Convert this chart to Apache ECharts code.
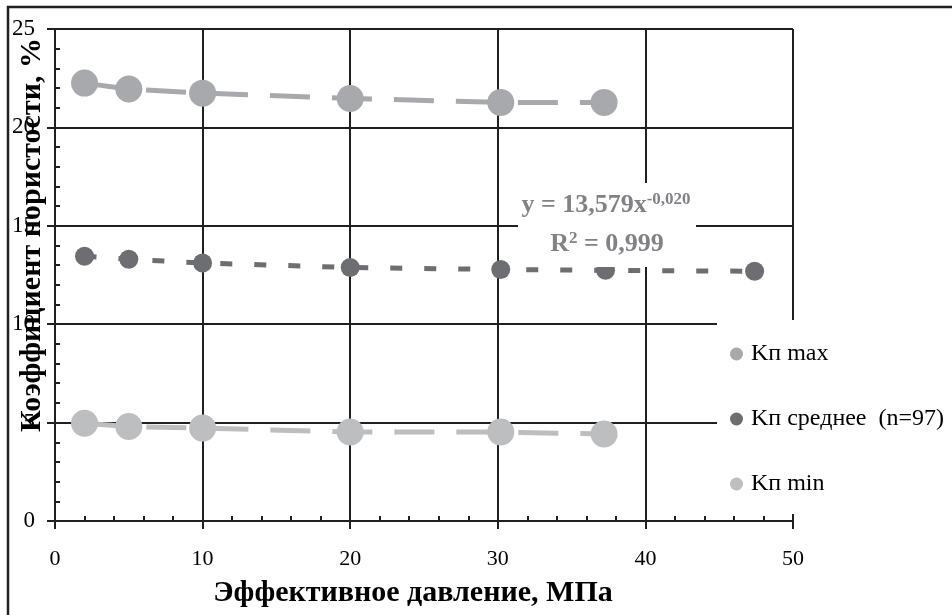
<!DOCTYPE html>
<html>
<head>
<meta charset="utf-8">
<script src="https://cdn.jsdelivr.net/npm/echarts@6/dist/echarts.min.js"></script>
<style>
  * { margin: 0; padding: 0; }
  #chart { width: 952px; height: 615px; background: #fff; }
</style>
</head>
<body>
<div id="chart"></div>
<script>
  // эффективное давление, МПа
  var pressure = [2, 5, 10, 20, 30.2, 37.2]
  var pressureMean = [2, 5, 10, 20, 30.2, 37.3, 47.4]
  // коэффициент пористости, %
  var kpMax = [22.25, 21.95, 21.74, 21.47, 21.27, 21.27]
  var kpMean = [13.45, 13.3, 13.11, 12.88, 12.78, 12.74, 12.69]
  var kpMin = [4.97, 4.8, 4.72, 4.52, 4.52, 4.42]
  var seriesNames = ['Kп max', 'Kп среднее  (n=97)', 'Kп min']
  var xTitle = 'Эффективное давление, МПа'
  var yTitle = 'Коэффициент пористости, %'

  var serif = '"Liberation Serif", "Times New Roman", serif'
  var ink = '#231f20'

  function pairs(xs, ys) {
    return xs.map(function (x, i) { return [x, ys[i]] })
  }

  var myChart = echarts.init(document.getElementById('chart'), null, { renderer: 'canvas' })

  var option = {
    animation: false,
    backgroundColor: '#fff',
    grid: { left: 55, right: 159, top: 29, bottom: 94 },
    xAxis: [
      {
        type: 'value', min: 0, max: 50, interval: 10,
        axisLine: { lineStyle: { color: ink, width: 2 } },
        axisTick: { length: 8, lineStyle: { color: ink, width: 2 } },
        axisLabel: { margin: 27, color: '#000', fontSize: 22, fontFamily: serif },
        splitLine: { lineStyle: { color: ink, width: 2 } }
      },
      {
        type: 'value', min: 0, max: 50, interval: 2, position: 'bottom',
        axisLine: { show: false },
        axisTick: { inside: true, length: 5, lineStyle: { color: ink, width: 2 } },
        axisLabel: { show: false },
        splitLine: { show: false }
      }
    ],
    yAxis: [
      {
        type: 'value', min: 0, max: 25, interval: 5,
        axisLine: { show: true, lineStyle: { color: ink, width: 2 } },
        axisTick: { show: true, length: 8, lineStyle: { color: ink, width: 2 } },
        axisLabel: { margin: 20, color: '#000', fontSize: 23, fontFamily: serif },
        splitLine: { lineStyle: { color: ink, width: 2 } }
      },
      {
        type: 'value', min: 0, max: 25, interval: 1, position: 'left',
        axisLine: { show: false },
        axisTick: { show: true, inside: true, length: 5, lineStyle: { color: ink, width: 2 } },
        axisLabel: { show: false },
        splitLine: { show: false }
      }
    ],
    legend: {
      data: seriesNames,
      orient: 'vertical',
      left: 717,
      top: 320,
      icon: 'circle',
      itemWidth: 13,
      itemHeight: 13,
      itemGap: 41,
      padding: [22, 20, 18, 13],
      backgroundColor: '#fff',
      textStyle: { color: '#000', fontSize: 24, lineHeight: 24, fontFamily: serif, padding: [0, 0, 0, 3] }
    },
    series: [
      {
        name: seriesNames[0], type: 'line',
        data: pairs(pressure, kpMax),
        symbol: 'circle', symbolSize: 27,
        itemStyle: { color: '#a7a9ac' },
        lineStyle: { color: '#a7a9ac', width: 5, type: [40, 22] }
      },
      {
        name: seriesNames[1], type: 'line',
        data: pairs(pressureMean, kpMean),
        symbol: 'circle', symbolSize: 19,
        itemStyle: { color: '#6d6e71' },
        lineStyle: { color: '#6d6e71', width: 5, type: [12, 22] }
      },
      {
        name: seriesNames[2], type: 'line',
        data: pairs(pressure, kpMin),
        symbol: 'circle', symbolSize: 27,
        itemStyle: { color: '#bcbec0' },
        lineStyle: { color: '#bcbec0', width: 5, type: [40, 22] }
      }
    ],
    graphic: [
      {
        type: 'polyline', z: 100, silent: true,
        shape: { points: [[8, 620], [8, 7], [960, 7]] },
        style: { stroke: ink, lineWidth: 2.5, fill: null }
      },
      {
        type: 'rect', z: 50, silent: true,
        shape: { x: 518, y: 183, width: 178, height: 84 },
        style: { fill: '#fff' }
      },
      {
        type: 'text', z: 51, silent: true,
        x: 606, y: 205,
        style: {
          text: '{a|y = 13,579x}{s|-0,020}',
          align: 'center', verticalAlign: 'middle',
          rich: {
            a: { fontSize: 26, fontWeight: 'bold', fontFamily: serif, fill: '#808285', lineHeight: 28 },
            s: { fontSize: 17, fontWeight: 'bold', fontFamily: serif, fill: '#808285', lineHeight: 14, verticalAlign: 'top' }
          }
        }
      },
      {
        type: 'text', z: 51, silent: true,
        x: 607, y: 244,
        style: {
          text: '{a|R}{s|2}{a| = 0,999}',
          align: 'center', verticalAlign: 'middle',
          rich: {
            a: { fontSize: 26, fontWeight: 'bold', fontFamily: serif, fill: '#808285', lineHeight: 28 },
            s: { fontSize: 17, fontWeight: 'bold', fontFamily: serif, fill: '#808285', lineHeight: 14, verticalAlign: 'top' }
          }
        }
      },
      {
        type: 'text', z: 60, silent: true,
        x: 413, y: 593,
        style: {
          text: xTitle, align: 'center', verticalAlign: 'middle',
          fontSize: 30, fontWeight: 'bold', fontFamily: serif, fill: '#000'
        }
      },
      {
        type: 'text', z: 60, silent: true,
        x: 32, y: 235, rotation: Math.PI / 2,
        style: {
          text: yTitle, align: 'center', verticalAlign: 'middle',
          fontSize: 30, fontWeight: 'bold', fontFamily: serif, fill: '#000'
        }
      }
    ]
  }

  myChart.setOption(option)
  window.addEventListener('resize', myChart.resize)
</script>
</body>
</html>
